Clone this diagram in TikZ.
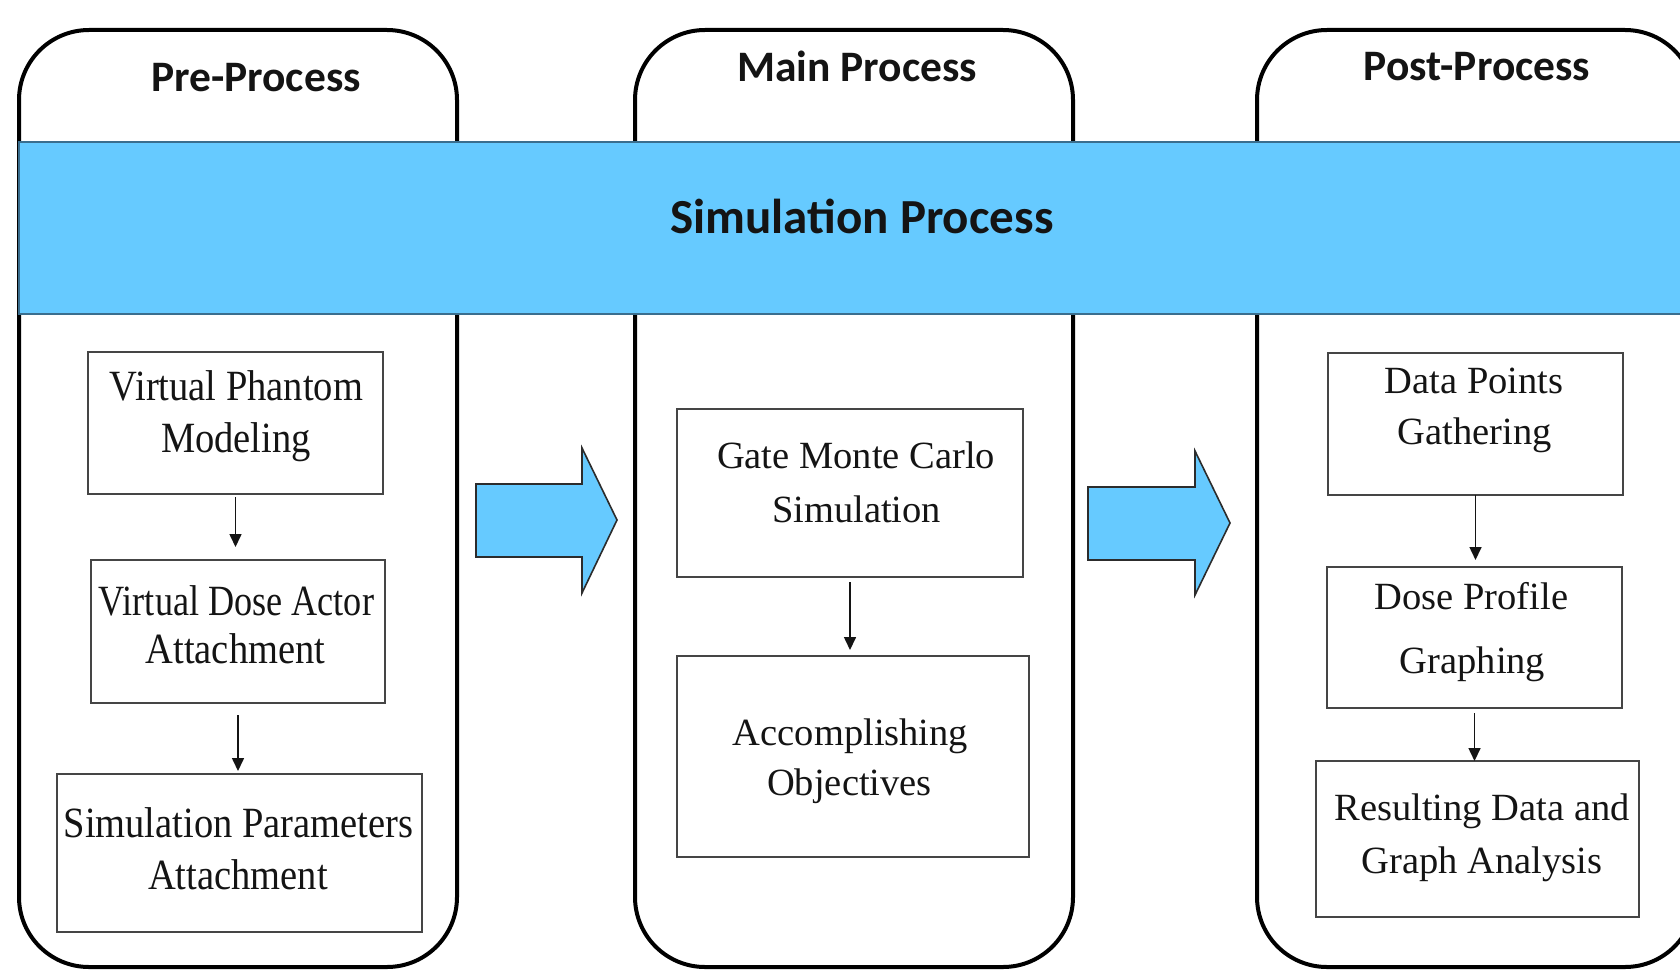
\documentclass[tikz,border=0pt]{standalone}
\usepackage{fontspec}
\usepackage{graphicx}
\setmainfont{Liberation Serif}
\newfontfamily\titlefont{Carlito}
\usetikzlibrary{arrows.meta}
\definecolor{bandblue}{HTML}{66CAFF}
\definecolor{bandedge}{HTML}{3A6E8E}
\definecolor{boxedge}{HTML}{454545}
\definecolor{inkc}{HTML}{141414}
\newcommand{\tallline}[1]{\scalebox{1}[1.12]{#1}}
\newcommand{\tallnarrow}[1]{\scalebox{0.94}[1.12]{#1}}
\begin{document}
\begin{tikzpicture}[x=1pt,y=-1pt,
  col/.style={draw=black, line width=4pt, fill=white, rounded corners=70pt},
  bandbox/.style={draw=bandedge, line width=1.8pt, fill=bandblue},
  bigarrow/.style={draw=inkc!90, line width=1.6pt, fill=bandblue, line join=miter},
  box/.style={draw=boxedge, line width=2pt, fill=white, inner sep=0pt, outer sep=0pt},
  conn/.style={draw=inkc, line width=1.6pt, -{Triangle[length=13pt,width=12pt]}},
  ttl/.style={font=\titlefont\bfseries\fontsize{43.5}{50}\selectfont, text=inkc, inner sep=0pt, anchor=base},
  bandttl/.style={font=\titlefont\bfseries\fontsize{49}{56}\selectfont, text=inkc, inner sep=0pt, anchor=base},
  lbl/.style={font=\fontsize{38.5}{46}\selectfont, text=inkc, inner sep=0pt, anchor=base}
]
\useasboundingbox (0,0) rectangle (1680,971);
\clip (0,0) rectangle (1680,971);
\fill[white] (0,0) rectangle (1680,971);

% columns
\draw[col] (19,30) rectangle (457,967);
\draw[col] (635,30) rectangle (1073,967);
\draw[col] (1257,30) rectangle (1695,967);

% band
\draw[bandbox] (19,142) rectangle (1700,314);

% titles
\node[ttl] (tpre) at (256,92) {Pre-Process};
\node[ttl] (tmain) at (857,82) {Main Process};
\node[ttl] (tpost) at (1477,81) {Post-Process};
\node[bandttl] (tband) at (862,233) {Simulation Process};

% boxes
\node[box, minimum width=295pt, minimum height=142pt] (pre1) at (235.5,423) {};
\node[box, minimum width=294pt, minimum height=143pt] (pre2) at (238,631.5) {};
\node[box, minimum width=365pt, minimum height=158pt] (pre3) at (239.5,853) {};
\node[box, minimum width=346pt, minimum height=168pt] (main1) at (850,493) {};
\node[box, minimum width=352pt, minimum height=201pt] (main2) at (853,756.5) {};
\node[box, minimum width=295pt, minimum height=142pt] (post1) at (1475.5,424) {};
\node[box, minimum width=295pt, minimum height=141pt] (post2) at (1474.5,637.5) {};
\node[box, minimum width=323pt, minimum height=156pt] (post3) at (1477.5,839) {};

% box texts
\node[lbl] (pre1a) at (236.5,400) {\tallline{Virtual Phantom}};
\node[lbl] (pre1b) at (236,452) {\tallline{Modeling}};
\node[lbl] (pre2a) at (236.5,615) {\tallnarrow{Virtual Dose Actor}};
\node[lbl] (pre2b) at (235.5,663) {\tallline{Attachment}};
\node[lbl] (pre3a) at (238.5,837) {\tallline{Simulation Parameters}};
\node[lbl] (pre3b) at (238,889) {\tallline{Attachment}};
\node[lbl] (main1a) at (856,468) {Gate Monte Carlo};
\node[lbl] (main1b) at (856.5,522) {Simulation};
\node[lbl] (main2a) at (850.5,745) {Accomplishing};
\node[lbl] (main2b) at (849.5,795) {Objectives};
\node[lbl] (post1a) at (1474,393) {Data Points};
\node[lbl] (post1b) at (1474.5,444) {Gathering};
\node[lbl] (post2a) at (1471.5,609) {Dose Profile};
\node[lbl] (post2b) at (1472.5,673) {Graphing};
\node[lbl] (post3a) at (1482,820) {Resulting Data and};
\node[lbl] (post3b) at (1482,873) {Graph Analysis};

% connectors
\draw[conn, shorten <=3pt, shorten >=13pt] (pre1.south) -- (pre1.south |- pre2.north);
\draw[conn, shorten <=12pt, shorten >=3pt] (pre2.south) -- (pre2.south |- pre3.north);
\draw[conn, shorten <=5pt, shorten >=6pt] (main1.south) -- (main1.south |- main2.north);
\draw[conn, shorten >=7pt] (post1.south) -- (post1.south |- post2.north);
\draw[conn, shorten <=5pt] (post2.south) -- (post2.south |- post3.north);

% big process arrows
\draw[bigarrow] (476,484) -- (582,484) -- (582,448) -- (617,520) -- (582,593) -- (582,557) -- (476,557) -- cycle;
\draw[bigarrow] (1088,487) -- (1195,487) -- (1195,451) -- (1230,523) -- (1195,595) -- (1195,560) -- (1088,560) -- cycle;
\end{tikzpicture}
\end{document}
